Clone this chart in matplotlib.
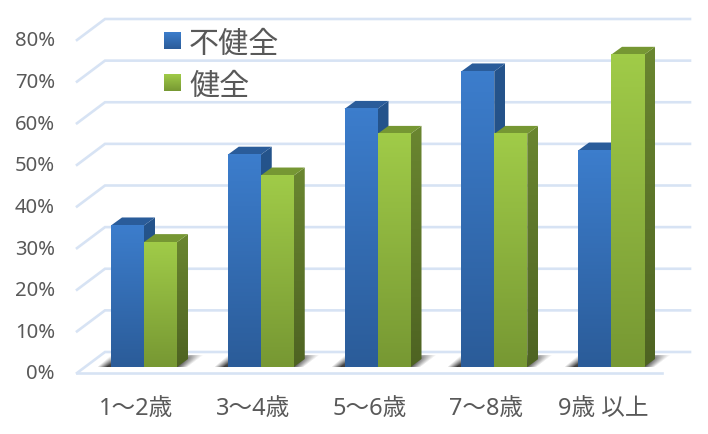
import numpy as np
import matplotlib
matplotlib.use("Agg")
import matplotlib.pyplot as plt
from matplotlib.patches import Polygon
from matplotlib.colors import LinearSegmentedColormap

plt.rcParams['font.family'] = ['Noto Sans', 'Noto Sans CJK JP', 'DejaVu Sans']

categories = ['1〜2歳', '3〜4歳', '5〜6歳', '7〜8歳', '9歳 以上']
unhealthy = [34, 51, 62, 71, 52]
healthy = [30, 46, 56, 56, 75]
series_names = ['不健全', '健全']
yticks = [0, 10, 20, 30, 40, 50, 60, 70, 80]

W, H = 708, 435
GRID = '#D7E3F4'
TEXT = '#595959'
BLUE = ('#3C7DCC', '#2B5C99')
GREEN = ('#A0CB48', '#779833')
BLUE_TOP = '#2A5C9A'
GREEN_SIDE = ('#6A8630', '#4E6322')
GREEN_TOP = '#769733'
BLUE_SIDE_G = ('#25548C', '#234D80')

fig = plt.figure(figsize=(W / 100, H / 100), dpi=100)
L, R, B, T = 77, 662, 368, 35
ax = fig.add_axes([L / W, 1 - B / H, (R - L) / W, (B - T) / H])
STEP = 116.75
X0 = 144
XLIM = ((L - X0) / STEP, (R - X0) / STEP)
ax.set_xlim(*XLIM)
ax.set_ylim(0, 80)
px = lambda n: n / STEP
py = lambda n: n * 80 / (B - T)
ax.set_axis_off()


def grad(x0, x1, y0, y1, c, clip=None, z=3):
    cmap = LinearSegmentedColormap.from_list('g', [c[1], c[0]])
    im = ax.imshow(np.linspace(1, 0, 64).reshape(-1, 1), extent=(x0, x1, y0, y1), cmap=cmap,
                   aspect='auto', zorder=z, vmin=0, vmax=1, interpolation='bilinear',
                   clip_on=clip is not None)
    if clip is not None:
        im.set_clip_path(clip)
    return im


# back wall, side wall and floor grid
fx, fy = px(28), py(21)
gx0, gx1 = XLIM
low = -py(6)
for v in yticks:
    ax.plot([gx0, gx0 + fx, gx1 + fx], [v + low, v + low + fy, v + low + fy],
            color=GRID, lw=1.9, zorder=1, clip_on=False, solid_joinstyle='miter')
ax.plot([gx0, gx1], [low, low], color=GRID, lw=1.9, zorder=1, clip_on=False)

# bars
w = 33 / STEP
dx, dy = px(11), py(8)


def shadow(x0, x1):
    # soft floor shadow, sampled in pixels
    xs = np.arange(-16, (x1 - x0) * STEP + 34)
    ys = np.arange(0, 13)
    X, Y = np.meshgrid(xs, ys)
    t = Y / 12.0
    span = (x1 - x0) * STEP
    left = -14 + 14 * t
    right = span + 10 + 16 * t
    a = np.clip((X - left) / 10, 0, 1) * np.clip((right - X) / 12, 0, 1) * (1 - t) ** 0.35
    rgba = np.zeros(a.shape + (4,))
    rgba[..., :3] = 0.2
    rgba[..., 3] = a * 0.95
    ax.imshow(rgba[::-1], extent=(x0 + px(xs[0]), x0 + px(xs[-1] + 1), 0, py(13)), aspect='auto',
              zorder=2, interpolation='bilinear', clip_on=False)


def bar(x0, v, c, side, top):
    x1 = x0 + w
    p = Polygon([(x1, 0), (x1 + dx, dy), (x1 + dx, v + dy), (x1, v)], closed=True,
                fc='none', ec='none', transform=ax.transData)
    ax.add_patch(p)
    grad(x1, x1 + dx, 0, v + dy, side, clip=p, z=3)
    ax.add_patch(Polygon([(x0, v), (x1, v), (x1 + dx, v + dy), (x0 + dx, v + dy)], closed=True,
                         fc=top, ec='none', zorder=3, clip_on=False))
    grad(x0, x1, 0, v, c, z=4)


for i, (a, b) in enumerate(zip(unhealthy, healthy)):
    shadow(i - w, i + w)
    bar(i - w, a, BLUE, BLUE_SIDE_G, BLUE_TOP)
    bar(i, b, GREEN, GREEN_SIDE, GREEN_TOP)

# axis labels
for v in yticks:
    ax.text(px(55 - X0), v - py(6.5), f'{v}%', ha='right', va='center', fontsize=14.6, color=TEXT,
            clip_on=False)
for i, c in enumerate(categories):
    ax.text(i - px(8), -py(41.5), c, ha='center', va='center', fontsize=17, color=TEXT,
            clip_on=False)

# legend
for (name, c, yp) in zip(series_names, (BLUE, GREEN), (41.5, 83.5)):
    y = (B - yp) * 80 / (B - T)
    grad(px(164 - X0), px(181 - X0), y - py(8.5), y + py(8.5), c, z=7)
    ax.text(px(189 - X0), y - py(3.5), name, ha='left', va='center', fontsize=21.7, color=TEXT,
            zorder=7, clip_on=False)

ax.set_xlim(*XLIM)
ax.set_ylim(0, 80)
fig.savefig('out.png', dpi=100)
